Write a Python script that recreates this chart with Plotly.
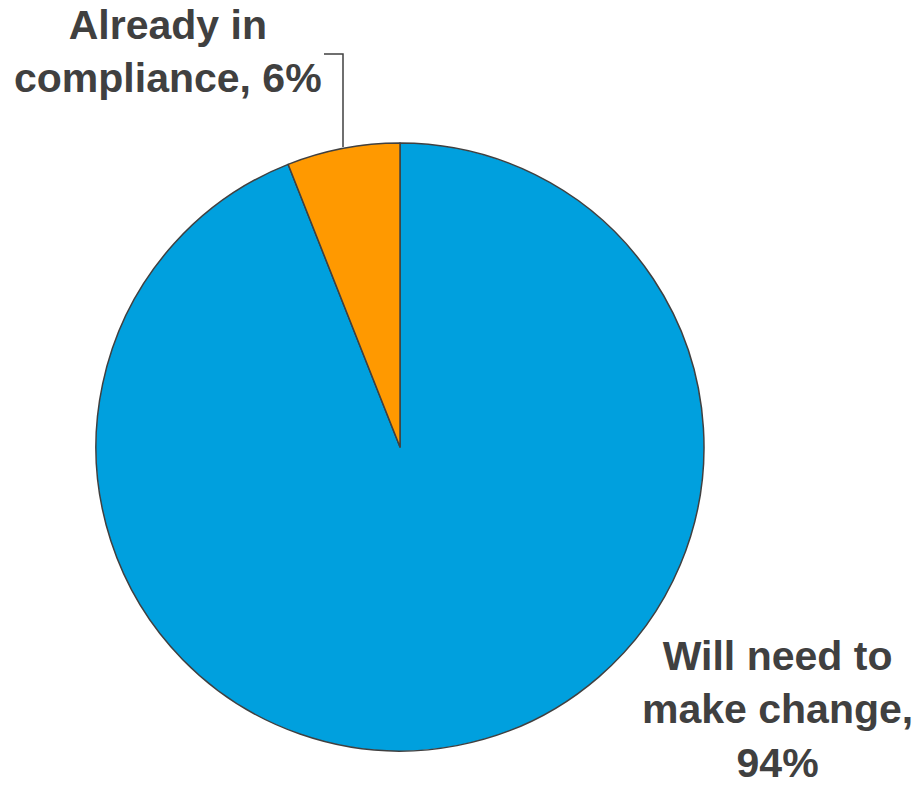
import plotly.graph_objects as go

labels = ["Will need to make change", "Already in compliance"]
values = [94, 6]
colors = ["#00A0DE", "#FF9900"]
label_texts = ["Will need to<br>make change,<br>94%", "Already in<br>compliance, 6%"]

W, H = 917, 785

def px(x):
    return x / W

def py(y):
    return 1 - y / H

fig = go.Figure(go.Pie(
    labels=labels,
    values=values,
    marker=dict(colors=colors, line=dict(color="#404040", width=1.5)),
    sort=False,
    direction="clockwise",
    rotation=0,
    textinfo="none",
    hoverinfo="label+percent",
    showlegend=False,
    domain=dict(x=[px(96), px(704)], y=[py(751), py(143)]),
))

font = dict(family="Liberation Sans, Arial, sans-serif", size=41, color="#404040")

fig.add_annotation(text="<b>" + label_texts[1] + "</b>", x=px(168), y=py(52),
                   xref="paper", yref="paper", xanchor="center", yanchor="middle",
                   showarrow=False, font=font, align="center")
fig.add_annotation(text="<b>" + label_texts[0] + "</b>", x=px(777), y=py(709),
                   xref="paper", yref="paper", xanchor="center", yanchor="middle",
                   showarrow=False, font=font, align="center")

fig.add_shape(type="path", xref="paper", yref="paper",
              path=f"M {px(324)} {py(54)} L {px(343)} {py(54)} L {px(343)} {py(147)}",
              line=dict(color="#404040", width=1.5))

fig.update_layout(width=W, height=H, margin=dict(l=0, r=0, t=0, b=0),
                  paper_bgcolor="white", plot_bgcolor="white")

fig.write_html("out.html", config={"displayModeBar": False},
               post_script="document.body.style.margin='0';")
